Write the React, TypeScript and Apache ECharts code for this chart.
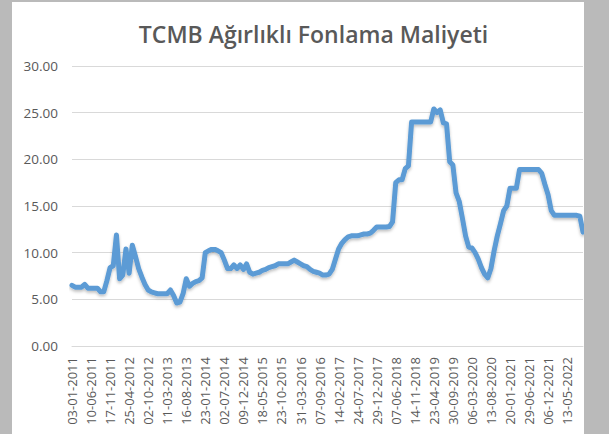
import React, { useEffect, useRef } from "react";
import * as echarts from "echarts";

const TITLE = "TCMB Ağırlıklı Fonlama Maliyeti";

// Tick labels shown on the x axis (every 6th category)
const labelDates = [
  "03-01-2011", "10-06-2011", "17-11-2011", "25-04-2012", "02-10-2012",
  "11-03-2013", "16-08-2013", "23-01-2014", "02-07-2014", "09-12-2014",
  "18-05-2015", "23-10-2015", "31-03-2016", "07-09-2016", "14-02-2017",
  "24-07-2017", "29-12-2017", "07-06-2018", "14-11-2018", "23-04-2019",
  "30-09-2019", "06-03-2020", "13-08-2020", "20-01-2021", "29-06-2021",
  "06-12-2021", "13-05-2022",
];

const STEPS = 6; // samples between two labelled dates
const TAIL = 5; // samples after the last label

// Weighted average funding cost (%)
const values = [
  6.5, 6.3, 6.3, 6.3, 6.6, 6.2, 6.2, 6.2, 6.2, 5.8, 5.8, 7.0,
  8.4, 8.6, 11.9, 7.2, 7.6, 10.4, 7.8, 10.8, 9.6, 8.3, 7.4, 6.6,
  6.0, 5.8, 5.7, 5.6, 5.6, 5.6, 5.6, 6.0, 5.4, 4.6, 4.7, 5.6,
  7.2, 6.4, 6.7, 6.9, 7.0, 7.3, 10.0, 10.2, 10.35, 10.35, 10.2, 10.0,
  9.2, 8.3, 8.3, 8.7, 8.3, 8.7, 8.2, 8.8, 7.9, 7.7, 7.8, 7.9,
  8.1, 8.2, 8.4, 8.5, 8.6, 8.8, 8.8, 8.8, 8.8, 9.0, 9.2, 9.0,
  8.8, 8.6, 8.5, 8.2, 8.0, 7.9, 7.8, 7.6, 7.6, 7.7, 8.2, 9.3,
  10.4, 11.0, 11.4, 11.7, 11.8, 11.8, 11.8, 11.9, 12.0, 12.0, 12.1, 12.4,
  12.75, 12.75, 12.75, 12.75, 12.8, 13.3, 17.5, 17.8, 17.8, 19.0, 19.3, 24.0,
  24.0, 24.0, 24.0, 24.0, 24.0, 24.0, 25.4, 25.0, 25.3, 23.9, 23.8, 19.75,
  19.4, 16.4, 15.5, 13.7, 11.8, 10.6, 10.5, 10.0, 9.3, 8.4, 7.7, 7.3,
  8.3, 10.2, 11.8, 13.1, 14.5, 15.0, 16.9, 16.9, 16.9, 18.9, 18.9, 18.9,
  18.9, 18.9, 18.9, 18.9, 18.5, 17.3, 16.2, 14.5, 14.0, 14.0, 14.0, 14.0,
  14.0, 14.0, 14.0, 14.0, 13.9, 12.2,
];

function parseDate(s: string): number {
  const [d, m, y] = s.split("-").map(Number);
  return Date.UTC(y, m - 1, d);
}
function fmtDate(t: number): string {
  const dt = new Date(t);
  const p = (n: number) => (n < 10 ? "0" + n : "" + n);
  return p(dt.getUTCDate()) + "-" + p(dt.getUTCMonth() + 1) + "-" + dt.getUTCFullYear();
}
function buildCategories(): string[] {
  const out: string[] = [];
  for (let k = 0; k < labelDates.length - 1; k++) {
    const t0 = parseDate(labelDates[k]);
    const t1 = parseDate(labelDates[k + 1]);
    out.push(labelDates[k]);
    for (let j = 1; j < STEPS; j++) out.push(fmtDate(t0 + ((t1 - t0) * j) / STEPS));
  }
  const last = parseDate(labelDates[labelDates.length - 1]);
  const prev = parseDate(labelDates[labelDates.length - 2]);
  out.push(labelDates[labelDates.length - 1]);
  for (let j = 1; j <= TAIL; j++) out.push(fmtDate(last + ((last - prev) * j) / STEPS));
  return out;
}

const FONT = "'Open Sans', 'Noto Sans', sans-serif";
const TEXT = "#595959";
const GRID = "#d9d9d9";

export default function App() {
  const ref = useRef<HTMLDivElement>(null);
  useEffect(() => {
    if (!ref.current) return;
    const chart = echarts.init(ref.current, undefined, { renderer: "svg" });
    const categories = buildCategories();
    chart.setOption({
      animation: false,
      backgroundColor: "#ffffff",
      textStyle: { fontFamily: FONT },
      title: {
        text: TITLE,
        left: 296.5,
        top: 15,
        textAlign: "center",
        textStyle: { fontFamily: FONT, fontSize: 23, fontWeight: 600, color: TEXT },
      },
      grid: { left: 60, right: 1, top: 64, bottom: 88, containLabel: false },
      xAxis: {
        type: "category",
        data: categories,
        boundaryGap: false,
        axisLine: { show: true, lineStyle: { color: GRID, width: 1 } },
        axisTick: { show: false },
        splitLine: { show: false },
        axisLabel: {
          interval: (index: number) => index % STEPS === 0,
          rotate: 90,
          margin: 11,
          fontSize: 13,
          color: TEXT,
          fontFamily: FONT,
        },
      },
      yAxis: {
        type: "value",
        min: 0,
        max: 30,
        interval: 5,
        axisLine: { show: false },
        axisTick: { show: false },
        splitLine: { show: true, lineStyle: { color: GRID, width: 1 } },
        axisLabel: {
          margin: 14,
          fontSize: 13.5,
          color: TEXT,
          fontFamily: FONT,
          formatter: (v: number) => v.toFixed(2),
        },
      },
      series: [
        {
          type: "line",
          data: values,
          symbol: "none",
          lineStyle: {
            color: "#5b9bd5",
            width: 5,
            cap: "round",
            join: "round",
            shadowColor: "rgba(0,0,0,0.25)",
            shadowBlur: 3,
            shadowOffsetY: 2,
          },
        },
      ],
    });
    return () => chart.dispose();
  }, []);
  return (
    <div
      style={{
        position: "fixed",
        left: 0,
        top: 0,
        width: 609,
        height: 434,
        background: "#bababa",
        overflow: "hidden",
      }}
    >
      <div
        ref={ref}
        style={{ position: "absolute", left: 12, top: 2, width: 572, height: 432, background: "#fff" }}
      />
    </div>
  );
}
